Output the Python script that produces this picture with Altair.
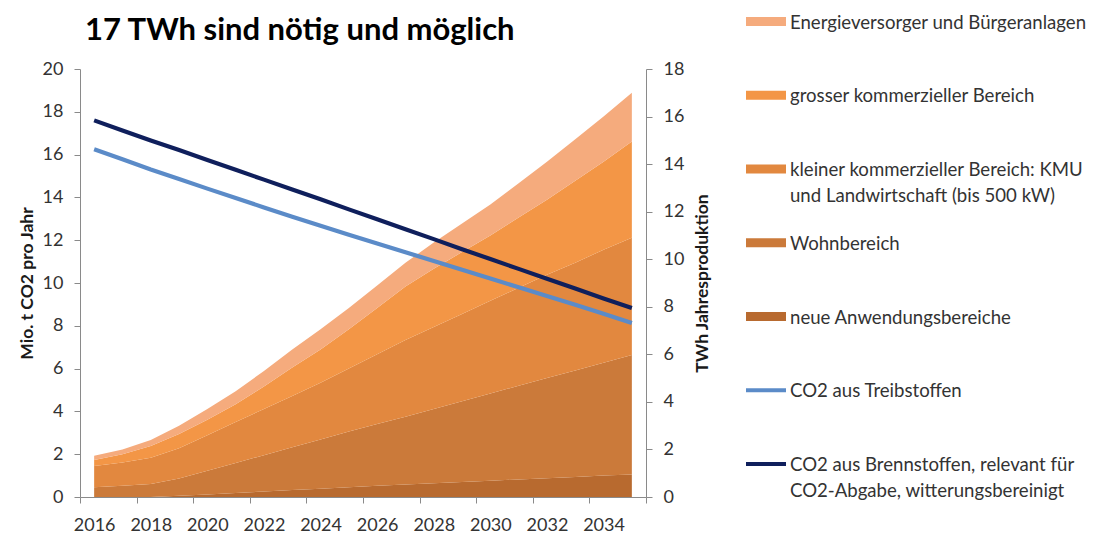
import altair as alt
import pandas as pd

# ---------------- data ----------------
years = list(range(2016, 2036))

# stacked areas (TWh, right axis), bottom -> top
neue = [0, 0, 0, 0.05, 0.1, 0.17, 0.23, 0.29, 0.35, 0.41, 0.47, 0.53, 0.58, 0.63, 0.68, 0.74, 0.79, 0.84, 0.9, 0.95]
wohn = [0.41, 0.47, 0.55, 0.73, 1.0, 1.26, 1.53, 1.8, 2.07, 2.34, 2.6, 2.85, 3.12, 3.4, 3.67, 3.94, 4.21, 4.48, 4.75, 5.02]
kleiner = [0.89, 0.98, 1.10, 1.27, 1.5, 1.72, 1.94, 2.16, 2.38, 2.65, 2.93, 3.22, 3.45, 3.67, 3.9, 4.12, 4.35, 4.53, 4.75, 4.93]
grosser = [0.26, 0.35, 0.5, 0.6, 0.65, 0.75, 0.95, 1.2, 1.4, 1.65, 1.95, 2.25, 2.45, 2.6, 2.75, 2.95, 3.15, 3.45, 3.7, 4.05]
energie = [0.18, 0.2, 0.25, 0.35, 0.45, 0.55, 0.65, 0.75, 0.85, 0.9, 0.95, 1.0, 1.1, 1.2, 1.3, 1.45, 1.6, 1.75, 1.9, 2.05]

# lines (Mio. t CO2, left axis)
co2_treib = [16.25, 15.78, 15.3, 14.86, 14.41, 13.97, 13.53, 13.1, 12.68, 12.26, 11.85, 11.44, 11.03, 10.62, 10.21, 9.8, 9.39, 8.98, 8.56, 8.13]
co2_brenn = [17.6, 17.13, 16.66, 16.21, 15.75, 15.29, 14.83, 14.37, 13.91, 13.44, 12.98, 12.51, 12.05, 11.58, 11.12, 10.66, 10.2, 9.74, 9.28, 8.83]

x_label_years = [2016, 2018, 2020, 2022, 2024, 2026, 2028, 2030, 2032, 2034]
y_left_ticks = [0, 2, 4, 6, 8, 10, 12, 14, 16, 18, 20]
y_right_ticks = [0, 2, 4, 6, 8, 10, 12, 14, 16, 18]

area_names = [
    "neue Anwendungsbereiche",
    "Wohnbereich",
    "kleiner kommerzieller Bereich: KMU und Landwirtschaft (bis 500 kW)",
    "grosser kommerzieller Bereich",
    "Energieversorger und Bürgeranlagen",
]
line_names = [
    "CO2 aus Treibstoffen",
    "CO2 aus Brennstoffen, relevant für CO2-Abgabe, witterungsbereinigt",
]
legend_labels = [
    "Energieversorger und Bürgeranlagen",
    "grosser kommerzieller Bereich",
    "kleiner kommerzieller Bereich: KMU\nund Landwirtschaft (bis 500 kW)",
    "Wohnbereich",
    "neue Anwendungsbereiche",
    "CO2 aus Treibstoffen",
    "CO2 aus Brennstoffen, relevant für\nCO2-Abgabe, witterungsbereinigt",
]
legend_kinds = ["area", "area", "area", "area", "area", "line", "line"]

# ---------------- styles ----------------
area_colors = ["#B86A2F", "#CB7A3A", "#E2883F", "#F39646", "#F5AB7D"]
line_colors = ["#5B8BC8", "#0F1F5C"]
legend_colors = area_colors[::-1] + line_colors
FONT = "Lato"
TEXT = "#333333"
AXIS_GRAY = "#8a8a8a"
W, H = 566, 428
half_year_px = W / 20 / 2

# ---------------- tables ----------------
rows = []
for k, (name, vals) in enumerate(zip(area_names, [neue, wohn, kleiner, grosser, energie])):
    for yr, v in zip(years, vals):
        rows.append({"year": yr, "series": name, "value": v, "order": k})
area_df = pd.DataFrame(rows)

lrows = []
for name, vals in zip(line_names, [co2_treib, co2_brenn]):
    for yr, v in zip(years, vals):
        lrows.append({"year": yr, "series": name, "value": v})
line_df = pd.DataFrame(lrows)

legend_df = pd.DataFrame({
    "idx": list(range(len(legend_labels))),
    "label": legend_labels,
    "kind": legend_kinds,
    "color": legend_colors,
})

# ---------------- encodings ----------------
x_axis = alt.Axis(
    values=[y - 0.5 for y in x_label_years] + [2035.5],
    labelExpr="datum.value > 2035 ? '' : format(datum.value + 0.5, 'd')",
    labelOffset=half_year_px,
    tickSize=6, labelPadding=13, grid=False, title=None,
    labelFlush=False, labelOverlap=False,
    domainColor=AXIS_GRAY, tickColor=AXIS_GRAY,
    labelFont=FONT, labelFontSize=18, labelColor=TEXT,
)
x_enc = alt.X("year:Q", scale=alt.Scale(domain=[2015.5, 2035.5], nice=False, zero=False), axis=x_axis)

area = alt.Chart(area_df).mark_area(opacity=1).encode(
    x=x_enc,
    y=alt.Y("value:Q", stack="zero",
            scale=alt.Scale(domain=[0, 18], nice=False),
            axis=alt.Axis(orient="right", values=y_right_ticks, grid=False,
                          title="TWh Jahresproduktion", titleAngle=270, titleBaseline="top",
                          titlePadding=10, titleFont=FONT, titleFontSize=17.5,
                          titleFontWeight="bold", titleColor="#1a1a1a",
                          tickSize=6, labelPadding=11, labelFlush=False,
                          domainColor=AXIS_GRAY, tickColor=AXIS_GRAY,
                          labelFont=FONT, labelFontSize=18, labelColor=TEXT)),
    color=alt.Color("series:N", scale=alt.Scale(domain=area_names, range=area_colors), legend=None),
    order=alt.Order("order:Q", sort="ascending"),
)

lines = alt.Chart(line_df).mark_line(strokeWidth=4.2).encode(
    x=x_enc,
    y=alt.Y("value:Q",
            scale=alt.Scale(domain=[0, 20], nice=False),
            axis=alt.Axis(orient="left", values=y_left_ticks, grid=False,
                          title="Mio. t CO2 pro Jahr",
                          titlePadding=6, titleFont=FONT, titleFontSize=17.5,
                          titleFontWeight="bold", titleColor="#1a1a1a",
                          tickSize=6, labelPadding=11, labelFlush=False,
                          domainColor=AXIS_GRAY, tickColor=AXIS_GRAY,
                          labelFont=FONT, labelFontSize=18, labelColor=TEXT)),
    color=alt.Color("series:N", scale=alt.Scale(domain=line_names, range=line_colors), legend=None),
)

ly = alt.Y("idx:Q", scale=alt.Scale(domain=[0, 6], range=[-47.5, 395]), axis=None)
sw_area = alt.Chart(legend_df).transform_filter("datum.kind == 'area'").mark_rule(
    strokeWidth=9, strokeCap="butt").encode(
    x=alt.value(666), x2=alt.value(706), y=ly, color=alt.Color("color:N", scale=None))
sw_line = alt.Chart(legend_df).transform_filter("datum.kind == 'line'").mark_rule(
    strokeWidth=4, strokeCap="butt").encode(
    x=alt.value(666), x2=alt.value(706), y=ly, color=alt.Color("color:N", scale=None))
txt = alt.Chart(legend_df).mark_text(
    align="left", baseline="top", dy=-8, font=FONT, fontSize=18.6,
    lineHeight=26, lineBreak="\n", color=TEXT).encode(
    x=alt.value(710), y=ly, text="label:N")
legend = alt.layer(sw_area, sw_line, txt)

chart = alt.layer(area, lines, legend).resolve_scale(
    y="independent", color="independent"
).properties(
    width=W, height=H,
    title=alt.TitleParams(text="17 TWh sind nötig und möglich", anchor="start", frame="group",
                          font=FONT, fontSize=31, fontWeight="bold", color="#000000",
                          offset=-33, dx=5),
    padding={"left": 72, "top": 61, "right": 447, "bottom": 40},
    autosize=alt.AutoSizeParams(type="none"),
    background="white",
).configure_view(stroke=None)

chart.save("out.html", embed_options={"renderer": "svg", "actions": False})
